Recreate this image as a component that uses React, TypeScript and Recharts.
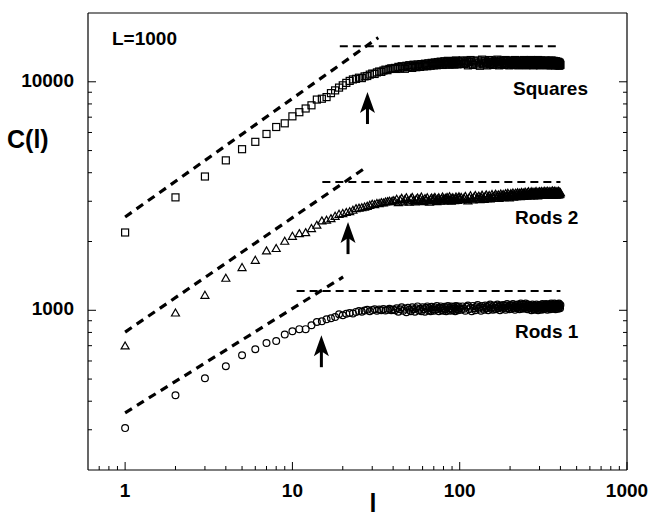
import {
  ComposedChart,
  ReferenceDot,
  ReferenceLine,
  Scatter,
  XAxis,
  YAxis,
} from "recharts"

// system sizes l (shared by all three series)
const ells = [
  1, 2, 3, 4, 5, 6, 7, 8, 9, 10,
  11, 12, 13, 14, 15, 16, 17, 18, 19, 20,
  21, 22, 23, 24, 25, 26, 27, 28, 29, 30,
  31, 32, 33, 34, 35, 36, 37, 38, 39, 40,
  41, 42, 43, 44, 45, 46, 47, 48, 49, 50,
  51, 52, 53, 54, 55, 56, 57, 58, 59, 60,
  61, 62, 63, 64, 65, 66, 67, 68, 69, 70,
  71, 72, 73, 74, 75, 76, 77, 78, 79, 80,
  81, 82, 83, 84, 85, 86, 87, 88, 89, 90,
  91, 92, 93, 94, 95, 96, 97, 98, 99, 100,
  102, 104, 106, 108, 110, 112, 114, 116, 118, 120,
  122, 124, 126, 128, 130, 132, 134, 136, 138, 140,
  142, 144, 146, 148, 150, 152, 154, 156, 158, 160,
  162, 164, 166, 168, 170, 172, 174, 176, 178, 180,
  182, 184, 186, 188, 190, 192, 194, 196, 198, 200,
  202, 204, 206, 208, 210, 212, 214, 216, 218, 220,
  222, 224, 226, 228, 230, 232, 234, 236, 238, 240,
  242, 244, 246, 248, 250, 252, 254, 256, 258, 260,
  262, 264, 266, 268, 270, 272, 274, 276, 278, 280,
  282, 284, 286, 288, 290, 292, 294, 296, 298, 300,
  302, 304, 306, 308, 310, 312, 314, 316, 318, 320,
  322, 324, 326, 328, 330, 332, 334, 336, 338, 340,
  342, 344, 346, 348, 350, 352, 354, 356, 358, 360,
  362, 364, 366, 368, 370, 372, 374, 376, 378, 380,
  382, 384, 386, 388, 390, 392, 394, 396, 398, 400,
]

const squares = [
  2190, 3120, 3850, 4530, 5070, 5460, 5910, 6340, 6580, 7060,
  7360, 7640, 7890, 8360, 8430, 8570, 8920, 9170, 9430, 9650,
  9890, 10090, 10240, 10300, 10420, 10380, 10560, 10600, 10750, 10860,
  10820, 10990, 11090, 11050, 11200, 11300, 11240, 11380, 11450, 11400,
  11500, 11380, 11620, 11450, 11700, 11560, 11400, 11750, 11600, 11820,
  11650, 11500, 11880, 11720, 11580, 11900, 11760, 11620, 11950, 11800,
  11680, 12000, 11850, 11700, 12050, 11900, 11750, 12100, 11950, 11800,
  12150, 11980, 11820, 12200, 12050, 11880, 12250, 12000, 11850, 12150,
  12300, 12050, 11900, 12200, 12350, 12000, 11880, 12250, 12100, 11950,
  12300, 12150, 11900, 12250, 12400, 12050, 11920, 12300, 12150, 11980,
  12250, 12400, 11950, 12100, 12350, 11800, 12200, 12450, 12000, 11850,
  12300, 12150, 11900, 12400, 12050, 11750, 12250, 12500, 12000, 11900,
  12350, 12100, 11800, 12200, 12450, 11950, 12150, 12400, 11850, 12050,
  12300, 11900, 12200, 12500, 12000, 11800, 12250, 12400, 11950, 12150,
  12350, 11850, 12100, 12450, 12000, 11900, 12300, 12150, 11800, 12250,
  12400, 11950, 12100, 12350, 11850, 12200, 12450, 12000, 11900, 12300,
  12100, 11800, 12250, 12400, 11950, 12150, 12350, 11850, 12050, 12300,
  12450, 11900, 12100, 12300, 11800, 12200, 12400, 11950, 12050, 12350,
  11850, 12150, 12450, 12000, 11900, 12300, 12100, 11800, 12250, 12400,
  11950, 12150, 12350, 11850, 12050, 12300, 12450, 11900, 12100, 12250,
  11800, 12200, 12400, 11950, 12100, 12300, 11850, 12050, 12350, 12000,
  11900, 12250, 12400, 11850, 12100, 12300, 11950, 12150, 11800, 12250,
  12350, 11900, 12050, 12300, 11800, 12150, 12400, 11950, 12100, 11850,
  12200, 12350, 11900, 12050, 12250, 11800, 12100, 12300, 11950, 11850,
  12150, 12250, 11800, 12000, 12200, 11900, 11750, 12100, 11950, 11850,
]

const rods2 = [
  698, 973, 1163, 1381, 1538, 1655, 1820, 1864, 2005, 2108,
  2166, 2188, 2279, 2357, 2461, 2479, 2519, 2578, 2630, 2650,
  2680, 2700, 2740, 2786, 2800, 2812, 2830, 2851, 2880, 2912,
  2900, 2935, 2931, 2960, 2950, 2979, 2990, 3000, 2985, 3020,
  3000, 3060, 2960, 3040, 3090, 2980, 3050, 3110, 3010, 2970,
  3080, 3120, 3020, 2980, 3060, 3100, 3000, 3070, 3130, 3030,
  2990, 3080, 3040, 3110, 3010, 2970, 3060, 3100, 3020, 3080,
  3120, 3030, 2990, 3070, 3110, 3040, 3000, 3080, 3130, 3050,
  3010, 3090, 3060, 3120, 3020, 3070, 3140, 3040, 3000, 3090,
  3110, 3050, 3020, 3080, 3130, 3060, 3030, 3100, 3140, 3070,
  3120, 3040, 3090, 3150, 3060, 3010, 3110, 3170, 3080, 3040,
  3130, 3180, 3070, 3100, 3160, 3050, 3120, 3190, 3090, 3060,
  3150, 3200, 3080, 3130, 3180, 3070, 3110, 3210, 3140, 3090,
  3170, 3220, 3100, 3150, 3200, 3090, 3160, 3230, 3120, 3180,
  3210, 3110, 3160, 3240, 3130, 3190, 3250, 3140, 3100, 3200,
  3240, 3150, 3190, 3260, 3130, 3210, 3170, 3250, 3140, 3220,
  3270, 3160, 3200, 3250, 3140, 3230, 3280, 3170, 3210, 3260,
  3150, 3220, 3290, 3180, 3240, 3160, 3270, 3210, 3300, 3190,
  3230, 3170, 3280, 3220, 3300, 3190, 3250, 3170, 3290, 3230,
  3180, 3270, 3310, 3200, 3250, 3170, 3290, 3240, 3190, 3300,
  3220, 3270, 3180, 3310, 3240, 3200, 3290, 3250, 3180, 3320,
  3230, 3280, 3190, 3300, 3250, 3210, 3320, 3240, 3190, 3290,
  3260, 3200, 3310, 3240, 3180, 3300, 3270, 3210, 3330, 3250,
  3190, 3290, 3240, 3320, 3210, 3270, 3200, 3310, 3250, 3190,
  3300, 3240, 3280, 3200, 3320, 3250, 3210, 3290, 3230, 3270,
]

const rods1 = [
  305, 425, 504, 569, 636, 675, 719, 734, 783, 810,
  827, 827, 860, 889, 895, 914, 923, 935, 960, 951,
  965, 973, 968, 984, 993, 985, 998, 1005, 990, 1002,
  1010, 995, 1008, 1000, 1012, 998, 1005, 1015, 1000, 1008,
  1000, 1020, 985, 1010, 1030, 995, 1015, 980, 1025, 1005,
  990, 1030, 1010, 985, 1020, 1040, 1000, 1015, 990, 1030,
  1010, 985, 1025, 1040, 1000, 1020, 990, 1035, 1010, 995,
  1030, 1005, 1045, 1015, 990, 1025, 1040, 1000, 1020, 995,
  1035, 1010, 990, 1030, 1045, 1005, 1020, 995, 1040, 1015,
  1000, 1035, 1020, 990, 1045, 1010, 1030, 1000, 1040, 1020,
  1005, 1040, 1015, 995, 1035, 1050, 1010, 1025, 990, 1045,
  1020, 1000, 1040, 1055, 1015, 1030, 995, 1045, 1025, 1005,
  1050, 1020, 1035, 1000, 1045, 1060, 1015, 1030, 1005, 1050,
  1025, 1010, 1045, 1060, 1020, 1035, 1000, 1050, 1030, 1015,
  1055, 1025, 1040, 1005, 1050, 1065, 1020, 1035, 1010, 1055,
  1030, 1015, 1050, 1065, 1025, 1040, 1005, 1055, 1035, 1020,
  1060, 1030, 1045, 1010, 1055, 1070, 1025, 1040, 1015, 1060,
  1035, 1020, 1055, 1070, 1030, 1045, 1010, 1060, 1040, 1025,
  1050, 1020, 1035, 1000, 1045, 1060, 1015, 1030, 1005, 1050,
  1025, 1010, 1045, 1060, 1020, 1035, 1000, 1050, 1030, 1015,
  1055, 1025, 1040, 1005, 1050, 1065, 1020, 1035, 1010, 1055,
  1030, 1015, 1050, 1065, 1025, 1040, 1005, 1055, 1035, 1020,
  1060, 1030, 1045, 1010, 1055, 1070, 1025, 1040, 1015, 1060,
  1035, 1020, 1055, 1070, 1030, 1045, 1010, 1060, 1040, 1025,
  1065, 1035, 1050, 1015, 1060, 1070, 1030, 1045, 1020, 1055,
]

// guide lines: power-law slope and plateau level for each series
const slopeSquares = [{ x: 1, y: 2560 }, { x: 32.6, y: 15600 }]
const slopeRods2 = [{ x: 1, y: 803 }, { x: 26.5, y: 4140 }]
const slopeRods1 = [{ x: 1, y: 356 }, { x: 20.1, y: 1399 }]
const plateauSquares = [{ x: 19.2, y: 14300 }, { x: 400, y: 14300 }]
const plateauRods2 = [{ x: 15.1, y: 3640 }, { x: 400, y: 3640 }]
const plateauRods1 = [{ x: 10.6, y: 1215 }, { x: 400, y: 1215 }]

// crossover arrows (tip position)
const arrows = [
  { x: 28.1, y: 9020 },
  { x: 21.5, y: 2432 },
  { x: 14.9, y: 778 },
]

const xTicks = [
  0.7, 0.8, 0.9, 1, 2, 3, 4, 5, 6, 7, 8, 9, 10, 20, 30, 40, 50, 60, 70, 80, 90,
  100, 200, 300, 400, 500, 600, 700, 800, 900, 1000,
]
const yTicks = [
  300, 400, 500, 600, 700, 800, 900, 1000, 2000, 3000, 4000, 5000, 6000, 7000,
  8000, 9000, 10000,
]

const FONT = "'Liberation Sans', Arial, Helvetica, sans-serif"

// plot frame (chart margins + 1px axis boxes)
const LEFT = 88
const RIGHT = 627
const TOP = 13
const BOTTOM = 470

const isMajor = (v: number) => Math.abs(Math.log10(v) - Math.round(Math.log10(v))) < 1e-6

function bottomTick({ x, payload }: any) {
  const major = isMajor(payload.value)
  return (
    <g>
      <line x1={x} y1={BOTTOM} x2={x} y2={BOTTOM - (major ? 8 : 4)} stroke="#000" strokeWidth={1} />
      {major && (
        <text x={x} y={BOTTOM + 27} textAnchor="middle" fontFamily={FONT} fontWeight="bold" fontSize={19} fill="#000">
          {payload.value}
        </text>
      )}
    </g>
  )
}

function topTick({ x, payload }: any) {
  const major = isMajor(payload.value)
  return <line x1={x} y1={TOP} x2={x} y2={TOP + (major ? 8 : 4)} stroke="#000" strokeWidth={1} />
}

function leftTick({ y, payload }: any) {
  const major = isMajor(payload.value)
  return (
    <g>
      <line x1={LEFT} y1={y} x2={LEFT + (major ? 8 : 4)} y2={y} stroke="#000" strokeWidth={1} />
      {major && (
        <text x={LEFT - 14} y={y + 5} textAnchor="end" fontFamily={FONT} fontWeight="bold" fontSize={19} fill="#000">
          {payload.value}
        </text>
      )}
    </g>
  )
}

function rightTick({ y, payload }: any) {
  const major = isMajor(payload.value)
  return <line x1={RIGHT} y1={y} x2={RIGHT - (major ? 8 : 4)} y2={y} stroke="#000" strokeWidth={1} />
}

const squareShape = ({ cx, cy }: any) => (
  <rect x={cx - 3.5} y={cy - 3.5} width={7} height={7} fill="none" stroke="#000" strokeWidth={1.2} />
)
const triangleShape = ({ cx, cy }: any) => (
  <polygon
    points={`${cx},${cy - 4} ${cx + 4},${cy + 3} ${cx - 4},${cy + 3}`}
    fill="none"
    stroke="#000"
    strokeWidth={1.2}
  />
)
const circleShape = ({ cx, cy }: any) => (
  <circle cx={cx} cy={cy} r={3.4} fill="none" stroke="#000" strokeWidth={1.2} />
)

const arrowShape = ({ cx, cy }: any) => (
  <g>
    <rect x={cx - 1.5} y={cy + 14} width={3} height={18} fill="#000" />
    <polygon points={`${cx},${cy} ${cx + 7.5},${cy + 21} ${cx},${cy + 16} ${cx - 7.5},${cy + 21}`} fill="#000" />
  </g>
)

const labelStyle = { fontFamily: FONT, fontWeight: "bold" as const, fill: "#000" }

export default function App() {
  const mk = (vals: number[]) => ells.map((l, i) => ({ l, c: vals[i] }))
  const axisLine = { stroke: "#000", strokeWidth: 1.2 }
  const slope = { stroke: "#000", strokeWidth: 3.2, strokeDasharray: "8 6" }
  const flat = { stroke: "#000", strokeWidth: 2, strokeDasharray: "8 5" }
  const common = {
    type: "number" as const,
    scale: "log" as const,
    allowDataOverflow: true,
    interval: 0,
    tickSize: 0,
    tickMargin: 0,
    tickLine: false,
    axisLine,
  }

  return (
    <div style={{ position: "absolute", left: 0, top: 0, width: 651, height: 518, background: "#fff" }}>
      <ComposedChart width={651} height={518} margin={{ top: 12, right: 23, bottom: 47, left: 87 }}>
        <XAxis dataKey="l" domain={[0.6, 1000]} ticks={xTicks} tick={bottomTick} height={1} {...common} />
        <XAxis xAxisId="top" orientation="top" domain={[0.6, 1000]} ticks={xTicks} tick={topTick} height={1} {...common} />
        <YAxis dataKey="c" domain={[200, 20000]} ticks={yTicks} tick={leftTick} width={1} {...common} />
        <YAxis yAxisId="right" orientation="right" domain={[200, 20000]} ticks={yTicks} tick={rightTick} width={1} {...common} />

        <ReferenceLine segment={slopeSquares} {...slope} ifOverflow="visible" />
        <ReferenceLine segment={slopeRods2} {...slope} ifOverflow="visible" />
        <ReferenceLine segment={slopeRods1} {...slope} ifOverflow="visible" />
        <ReferenceLine segment={plateauSquares} {...flat} ifOverflow="visible" />
        <ReferenceLine segment={plateauRods2} {...flat} ifOverflow="visible" />
        <ReferenceLine segment={plateauRods1} {...flat} ifOverflow="visible" />

        <Scatter data={mk(squares)} shape={squareShape} isAnimationActive={false} />
        <Scatter data={mk(rods2)} shape={triangleShape} isAnimationActive={false} />
        <Scatter data={mk(rods1)} shape={circleShape} isAnimationActive={false} />

        {arrows.map((a, i) => (
          <ReferenceDot key={i} x={a.x} y={a.y} shape={arrowShape} ifOverflow="visible" />
        ))}
      </ComposedChart>

      <svg width={651} height={518} style={{ position: "absolute", left: 0, top: 0, pointerEvents: "none" }}>
        <text x={112} y={45} fontSize={19} {...labelStyle}>L=1000</text>
        <text x={7} y={148} fontSize={25} {...labelStyle}>C(l)</text>
        <text x={373} y={512} fontSize={25} textAnchor="middle" {...labelStyle}>l</text>
        <text x={513} y={95} fontSize={19} {...labelStyle}>Squares</text>
        <text x={515} y={224} fontSize={19} {...labelStyle}>Rods 2</text>
        <text x={515} y={338} fontSize={19} {...labelStyle}>Rods 1</text>
      </svg>
    </div>
  )
}
